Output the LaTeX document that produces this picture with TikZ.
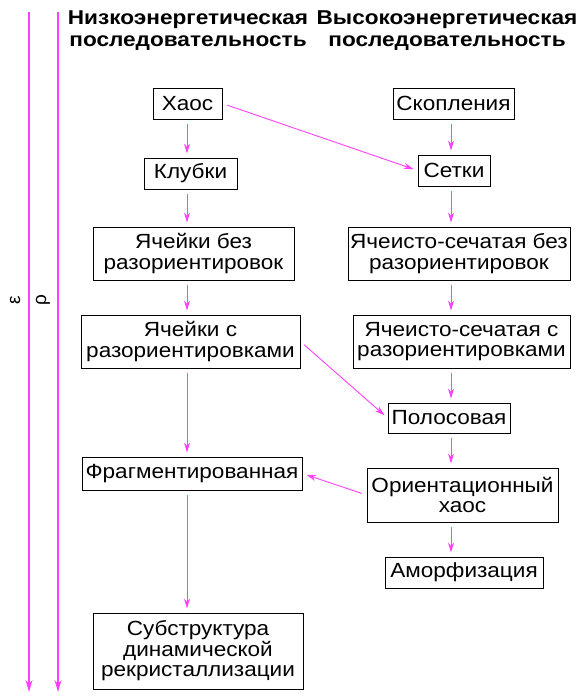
\documentclass[tikz,border=0pt]{standalone}
\usepackage{fontspec}
\setmainfont{Liberation Sans}
\newfontfamily\boxfont{Liberation Sans}[FakeStretch=1.1]
\newfontfamily\headfont{Liberation Sans}[FakeStretch=1.13]
\usetikzlibrary{arrows.meta}
\definecolor{linkpink}{RGB}{255,64,255}

\begin{document}
\begin{tikzpicture}[x=1pt,y=-1pt,
    box/.style={draw, line width=0.9pt, align=center, inner sep=2pt,
        font=\boxfont\fontsize{20.5}{20.5}\selectfont},
    size/.style 2 args={minimum width=#1pt, minimum height=#2pt},
    head/.style={align=center, font=\headfont\bfseries\fontsize{20}{22}\selectfont},
    link/.style={draw=linkpink, line width=0.9pt, -{Stealth[length=10pt,width=6pt]},
        shorten <=5pt, shorten >=4pt},
    axis/.style={draw=linkpink, line width=1.2pt, -{Stealth[length=12pt,width=7pt]}}]

    \useasboundingbox (0,0) rectangle (580,696);

    % Axes
    \coordinate (epsTop) at (29,12);
    \coordinate (epsBot) at (29,692);
    \coordinate (rhoTop) at (58,12);
    \coordinate (rhoBot) at (58,692);
    \draw[axis] (epsTop) -- (epsBot);
    \draw[axis] (rhoTop) -- (rhoBot);
    \node[rotate=90, font=\fontsize{19}{20}\selectfont] (eps) at (15,300) {ε};
    \node[rotate=90, font=\fontsize{19}{20}\selectfont] (rho) at (43,300) {ρ};

    % Headers
    \node[head] (lowHead) at (188,31) {Низкоэнергетическая\\последовательность};
    \node[head] (highHead) at (447,31) {Высокоэнергетическая\\последовательность};

    % Low-energy column
    \coordinate (lcol) at (187,0);
    \node[box, size={69}{31}] (chaos) at (187.5,103.5) {Хаос};
    \node[box, size={93}{31}] (coils) at (190.5,173.5) {Клубки};
    \node[box, size={201}{53}] (cellsNo) at (193.5,253.5) {Ячейки без\\разориентировок};
    \node[box, size={219}{53}] (cellsMis) at (190.5,341.5) {Ячейки с\\разориентировками};
    \node[box, size={220}{33}] (fragm) at (192,473.5) {Фрагментированная};
    \node[box, size={210}{76}] (recryst) at (198,651) {Субструктура\\динамической\\рекристаллизации};

    % High-energy column
    \coordinate (rcol) at (451,0);
    \node[box, size={121}{31}] (clust) at (453.5,103.5) {Скопления};
    \node[box, size={72}{31}] (nets) at (454,170.5) {Сетки};
    \node[box, size={222}{53}] (cellNetNo) at (459,253.5) {Ячеисто-сечатая без\\разориентировок};
    \node[box, size={217}{53}] (cellNetMis) at (461.5,341.5) {Ячеисто-сечатая с\\разориентировками};
    \node[box, size={122}{30}] (bands) at (449,418) {Полосовая};
    \node[box, size={191}{54}] (orChaos) at (462.5,495) {Ориентационный\\хаос};
    \node[box, size={158}{31}] (amorph) at (464,572.5) {Аморфизация};

    % Links
    \draw[link] (chaos.south -| lcol) -- (coils.north -| lcol);
    \draw[link] (coils.south -| lcol) -- (cellsNo.north -| lcol);
    \draw[link] (cellsNo.south -| lcol) -- (cellsMis.north -| lcol);
    \draw[link] (cellsMis.south -| lcol) -- (fragm.north -| lcol);
    \draw[link] (fragm.south -| lcol) -- (recryst.north -| lcol);
    \draw[link] (chaos.east) -- (nets.west);
    \draw[link] (cellsMis.east) -- (bands.west);
    \draw[link] (orChaos.west) -- (fragm.east);
    \draw[link] (clust.south -| rcol) -- (nets.north -| rcol);
    \draw[link] (nets.south -| rcol) -- (cellNetNo.north -| rcol);
    \draw[link] (cellNetNo.south -| rcol) -- (cellNetMis.north -| rcol);
    \draw[link] (cellNetMis.south -| rcol) -- (bands.north -| rcol);
    \draw[link] (bands.south -| rcol) -- (orChaos.north -| rcol);
    \draw[link] (orChaos.south -| rcol) -- (amorph.north -| rcol);
\end{tikzpicture}
\end{document}
